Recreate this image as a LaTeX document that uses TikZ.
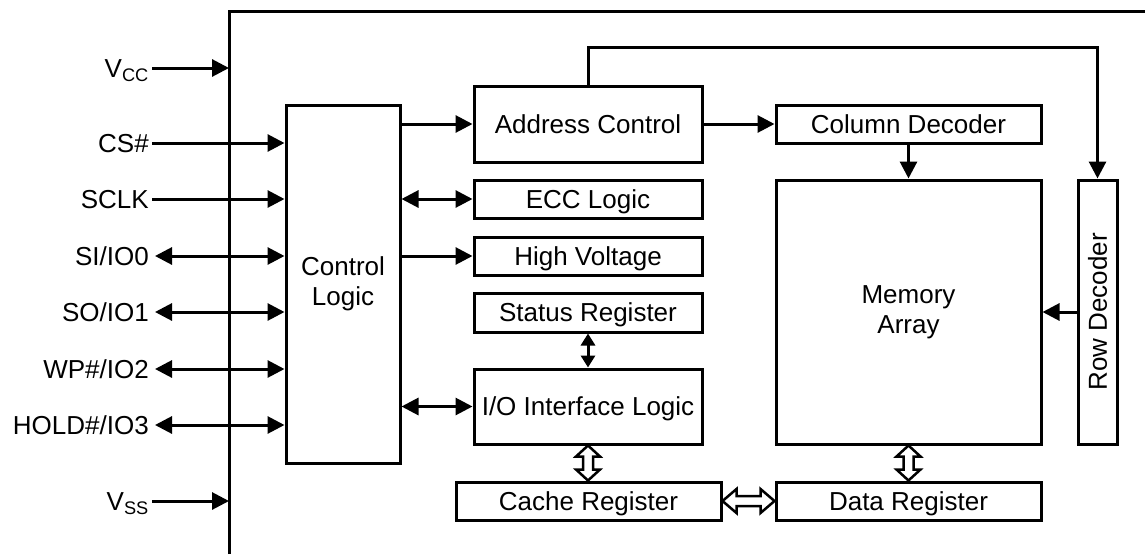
\documentclass[tikz,border=0pt]{standalone}
\usepackage{fontspec}
\setmainfont{Liberation Sans}
\usetikzlibrary{arrows.meta,calc}
\newcommand\hollowV[2]{%
  \path[hollow] let \p1=(#1), \p2=(#2) in
   (\x1,\y1) -- (\x1+12pt,\y1-11pt) -- (\x1+5pt,\y1-11pt) -- (\x1+5pt,\y2+11pt)
   -- (\x1+12pt,\y2+11pt) -- (\x1,\y2) -- (\x1-12pt,\y2+11pt) -- (\x1-5pt,\y2+11pt)
   -- (\x1-5pt,\y1-11pt) -- (\x1-12pt,\y1-11pt) -- cycle;}
\newcommand\hollowH[2]{%
  \path[hollow] let \p1=(#1), \p2=(#2) in
   (\x1,\y1) -- (\x1+14pt,\y1+12pt) -- (\x1+14pt,\y1+5pt) -- (\x2-14pt,\y1+5pt)
   -- (\x2-14pt,\y1+12pt) -- (\x2,\y1) -- (\x2-14pt,\y1-12pt) -- (\x2-14pt,\y1-5pt)
   -- (\x1+14pt,\y1-5pt) -- (\x1+14pt,\y1-12pt) -- cycle;}
\begin{document}
\begin{tikzpicture}[x=1pt,y=-1pt,
  box/.style={draw, line width=3pt, rectangle, inner sep=0pt, align=center,
    font=\fontsize{26}{30}\selectfont},
  one/.style={text height=18.7pt, text depth=0pt},
  lab/.style={inner sep=0pt, anchor=east, text height=18.7pt, text depth=0pt,
    font=\fontsize{26}{30}\selectfont},
  conn/.style={line width=3pt, -{Triangle[length=17pt,width=17pt]}},
  bconn/.style={line width=3pt, {Triangle[length=17pt,width=17pt]}-{Triangle[length=17pt,width=17pt]}},
  sconn/.style={line width=3pt, {Triangle[length=12pt,width=14pt]}-{Triangle[length=12pt,width=14pt]}},
  hollow/.style={draw, line width=2.5pt, fill=white, line join=miter}
]
\useasboundingbox (0,0) rectangle (1145,554);

% chip outline
\coordinate (chipBL) at (229,554);
\coordinate (chipTL) at (229,11);
\coordinate (chipTR) at (1145,11);
\draw[line width=3pt] (chipBL) -- (chipTL) -- (chipTR);

% blocks
\node[box, minimum width=114pt, minimum height=358pt] (ctrl) at (343,284) {Control\\Logic};
\node[box, one, minimum width=228pt, minimum height=76pt] (addr) at (588,124) {Address Control};
\node[box, one, minimum width=228pt, minimum height=38pt] (ecc) at (588,199) {ECC Logic};
\node[box, one, minimum width=228pt, minimum height=38pt] (hv) at (588,256) {High Voltage};
\node[box, one, minimum width=228pt, minimum height=39pt] (status) at (588,312.5) {Status Register};
\node[box, one, minimum width=228pt, minimum height=75pt] (io) at (588,406.5) {I/O Interface Logic};
\node[box, one, minimum width=265pt, minimum height=38pt] (cache) at (588.5,501) {Cache Register};
\node[box, one, minimum width=265pt, minimum height=38pt] (data) at (908.5,501) {Data Register};
\node[box, one, minimum width=265pt, minimum height=38pt] (col) at (908.5,124) {Column Decoder};
\node[box, minimum width=265pt, minimum height=264pt] (mem) at (908.5,312) {Memory\\Array};
\node[box, one, rotate=90, minimum width=264pt, minimum height=39pt] (row) at (1097.5,312) {Row Decoder};

% pin labels
\node[lab] (vcc) at (149,68) {V\textsubscript{CC}};
\node[lab] (cs) at (149,143) {CS\#};
\node[lab] (sclk) at (149,199) {SCLK};
\node[lab] (si) at (149,256) {SI/IO0};
\node[lab] (so) at (149,312) {SO/IO1};
\node[lab] (wp) at (149,369) {WP\#/IO2};
\node[lab] (hold) at (149,425) {HOLD\#/IO3};
\node[lab] (vss) at (149,501) {V\textsubscript{SS}};

% pin connectors
\draw[conn] ([xshift=3pt]vcc.east) -- (vcc.east -| chipTL);
\draw[conn] ([xshift=3pt]cs.east) -- (cs.east -| ctrl.west);
\draw[conn] ([xshift=3pt]sclk.east) -- (sclk.east -| ctrl.west);
\draw[bconn] ([xshift=6pt]si.east) -- (si.east -| ctrl.west);
\draw[bconn] ([xshift=6pt]so.east) -- (so.east -| ctrl.west);
\draw[bconn] ([xshift=6pt]wp.east) -- (wp.east -| ctrl.west);
\draw[bconn] ([xshift=6pt]hold.east) -- (hold.east -| ctrl.west);
\draw[conn] ([xshift=3pt]vss.east) -- (vss.east -| chipBL);

% internal connectors
\draw[conn] (ctrl.east |- addr.west) -- (addr.west);
\draw[bconn] (ctrl.east |- ecc.west) -- (ecc.west);
\draw[conn] (ctrl.east |- hv.west) -- (hv.west);
\draw[bconn] (ctrl.east |- io.west) -- (io.west);
\draw[sconn] (status.south) -- (io.north);
\draw[conn] (addr.east) -- (col.west);
\draw[conn] (col.south) -- (mem.north);
\draw[conn] (addr.north) -- ++(0,-37) -| (row.east);
\draw[conn] (row.north) -- (mem.east);

% wide buses
\hollowV{io.south}{cache.north}
\hollowV{mem.south}{data.north}
\hollowH{cache.east}{data.west}
\end{tikzpicture}
\end{document}
